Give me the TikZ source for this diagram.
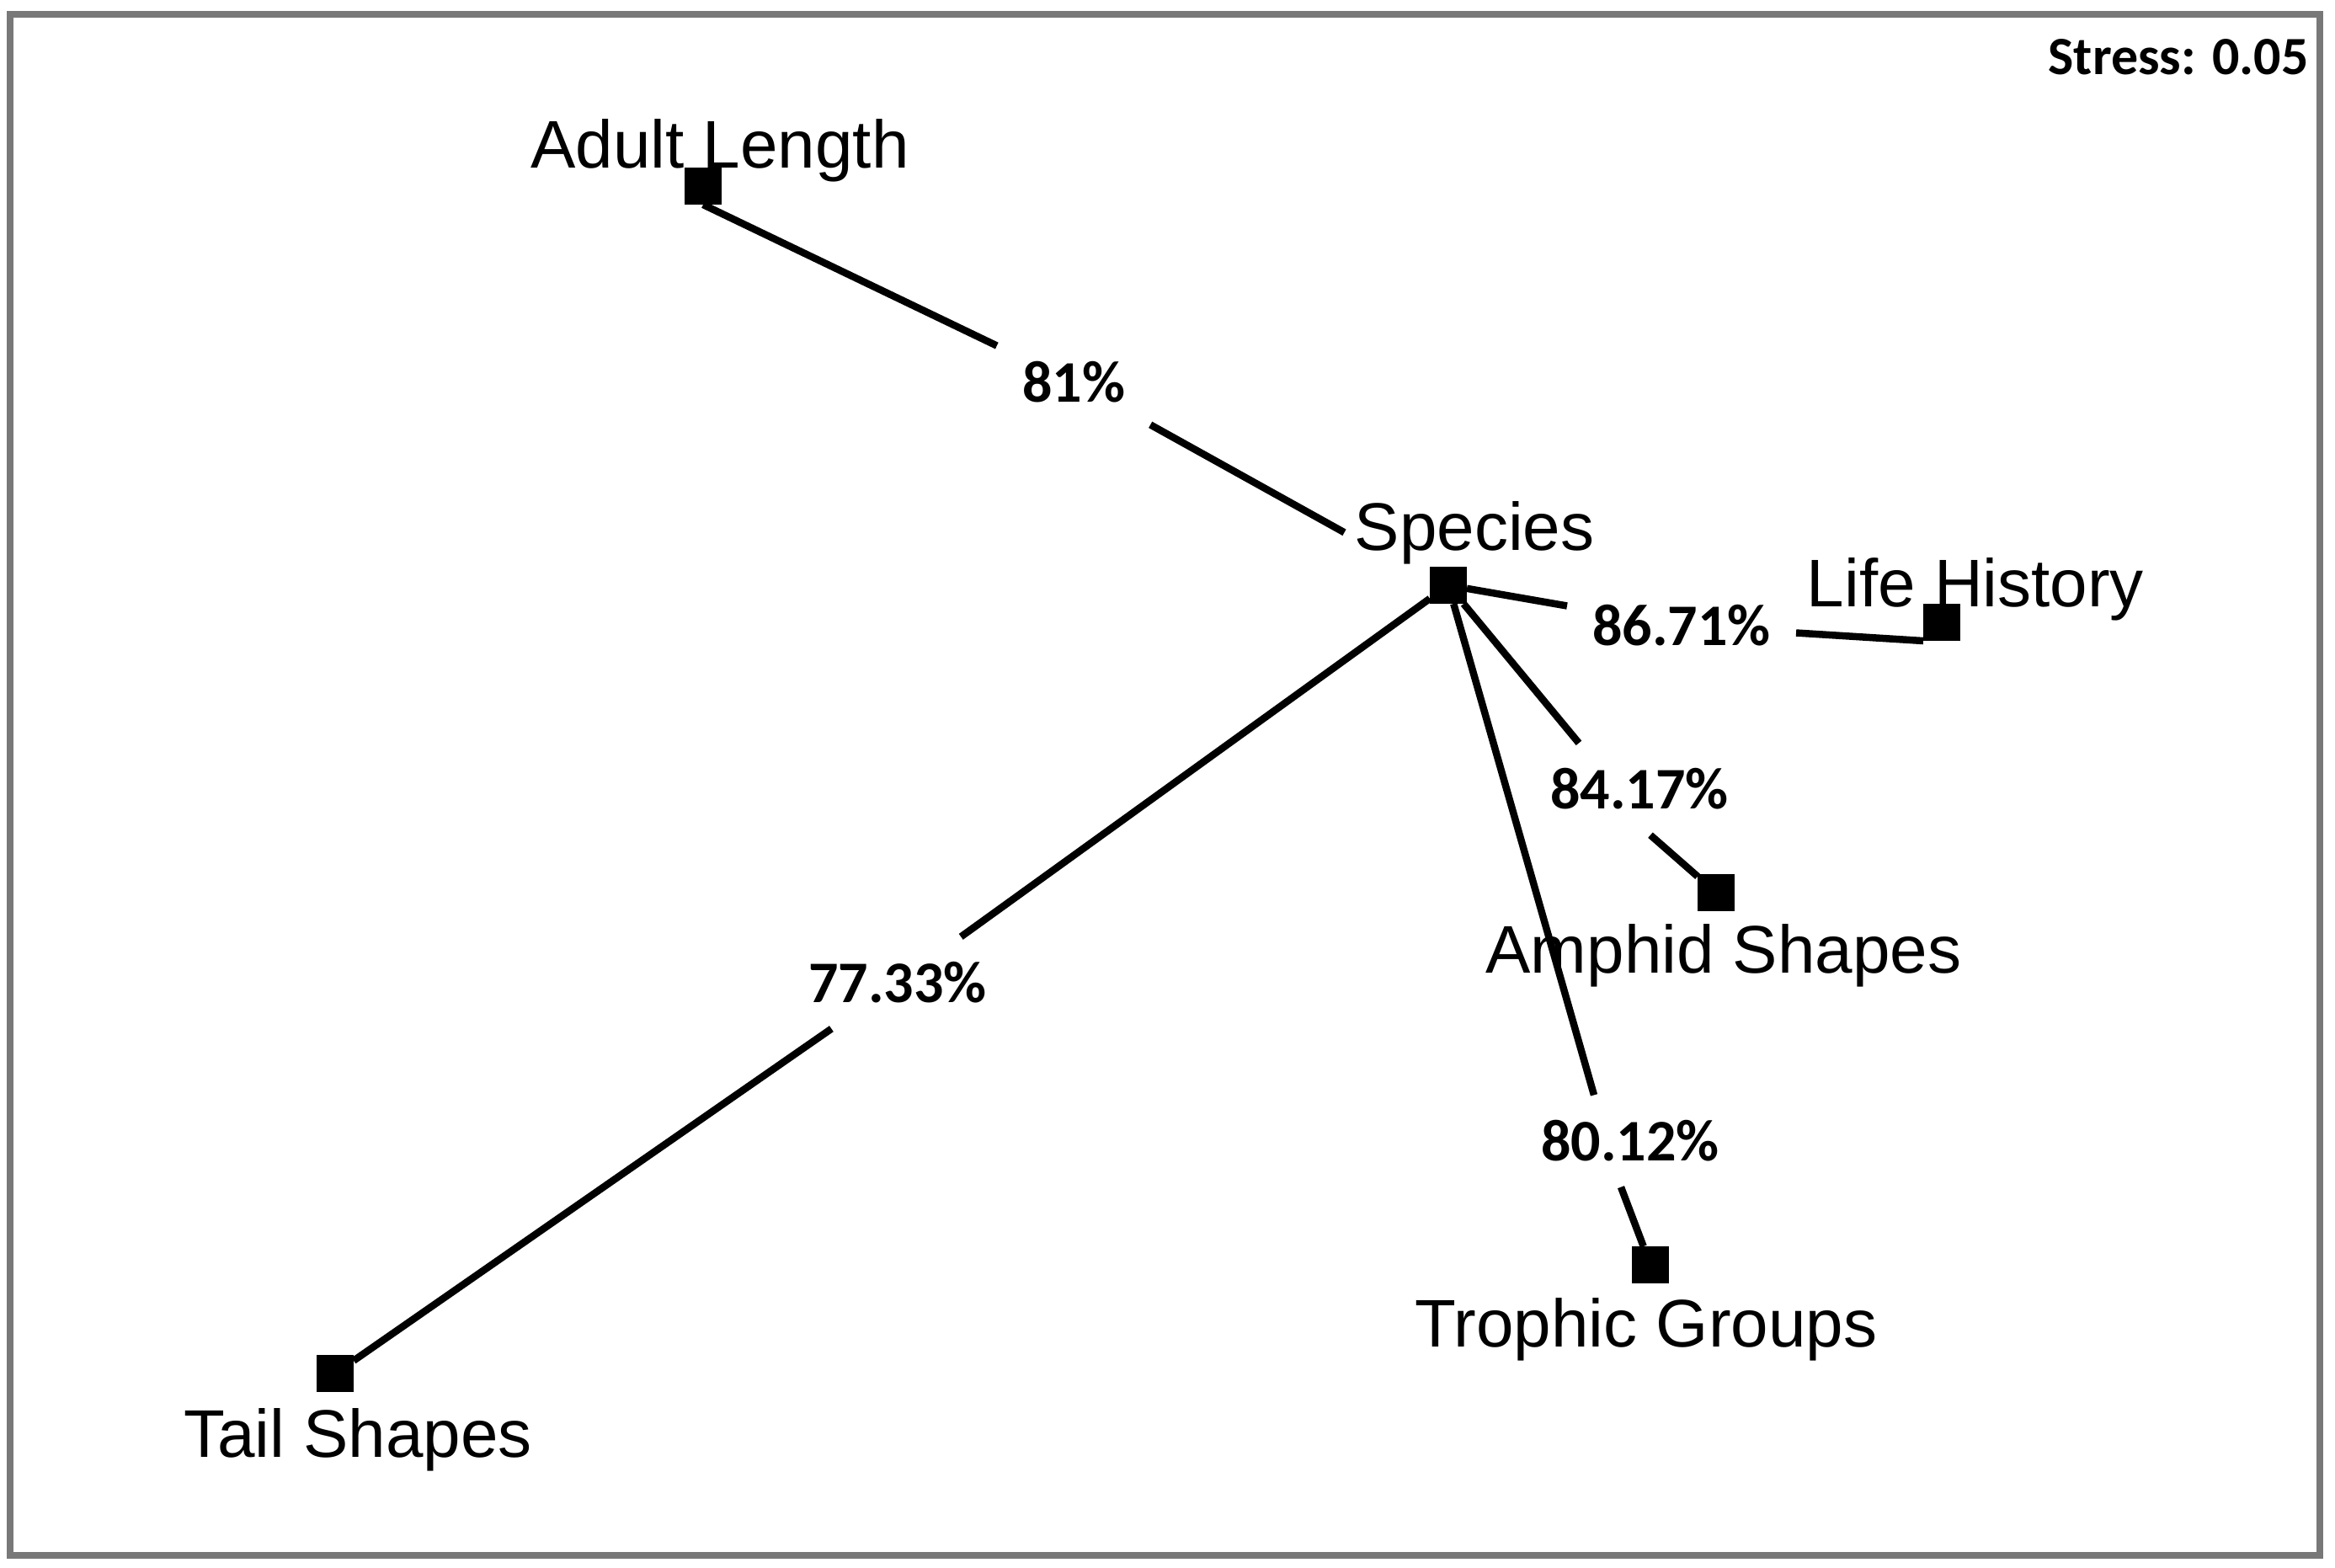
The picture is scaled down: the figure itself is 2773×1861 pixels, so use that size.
\documentclass[tikz,border=0pt]{standalone}
\usepackage{fontspec}
\setmainfont{Liberation Sans}
\newfontfamily\pctfont{Carlito}
\definecolor{framegray}{RGB}{120,120,120}
\begin{document}
\begin{tikzpicture}[x=1pt,y=-1pt,
  mk/.style={fill=black, minimum size=44pt, inner sep=0pt, outer sep=0pt},
  nm/.style={font=\fontsize{80}{92}\selectfont, inner sep=0pt, anchor=base},
  pct/.style={font=\pctfont\bfseries\fontsize{70}{84}\selectfont, inner sep=30pt},
  conn/.style={line width=8.5pt, black}]
\useasboundingbox (0,0) rectangle (2773,1861);
\fill[white] (0,0) rectangle (2773,1861);
\draw[line width=8pt, framegray] (12,17) rectangle (2755,1847);

% markers
\node[mk] (adult) at (835,221) {};
\node[mk] (sp) at (1720,695) {};
\node[mk] (lh) at (2306,739) {};
\node[mk] (am) at (2038,1060) {};
\node[mk] (tg) at (1960,1502) {};
\node[mk] (tail) at (398,1631) {};

% names
\node[nm] (tAdult) at (855,199) {Adult Length};
\node[nm] (tSpecies) at (1751,653) {Species};
\node[nm] (tLife) at (2346,720) {Life History};
\node[nm] (tAmphid) at (2047,1155) {Amphid Shapes};
\node[nm] (tTrophic) at (1955,1599) {Trophic Groups};
\node[nm] (tTail) at (425,1730) {Tail Shapes};

% percentages
\node[pct] (p81) at (1275,454) {81\%};
\node[pct] (p86) at (1997,743) {86.71\%};
\node[pct] (p84) at (1947,937) {84.17\%};
\node[pct] (p77) at (1066,1167) {77.33\%};
\node[pct] (p80) at (1936,1355) {80.12\%};

% stress
\node[font=\pctfont\bfseries\fontsize{64}{76}\selectfont, inner sep=0pt, anchor=east] (stress) at (2742,68) {Stress: 0.05};

% connectors
\draw[conn] (adult.south) -- (p81);
\draw[conn] (p81) -- ([xshift=-12pt]tSpecies.west);
\draw[conn] (sp) -- (p86) -- (lh.south west);
\draw[conn] (sp) -- ([xshift=-72pt]p84.north);
\draw[conn] ([xshift=13pt]p84.south) -- (am);
\draw[conn] (sp) -- (p77) -- (tail);
\draw[conn] (sp) -- ([xshift=-43pt]p80.north);
\draw[conn] ([xshift=-11pt]p80.south) -- (tg);
\end{tikzpicture}
\end{document}
